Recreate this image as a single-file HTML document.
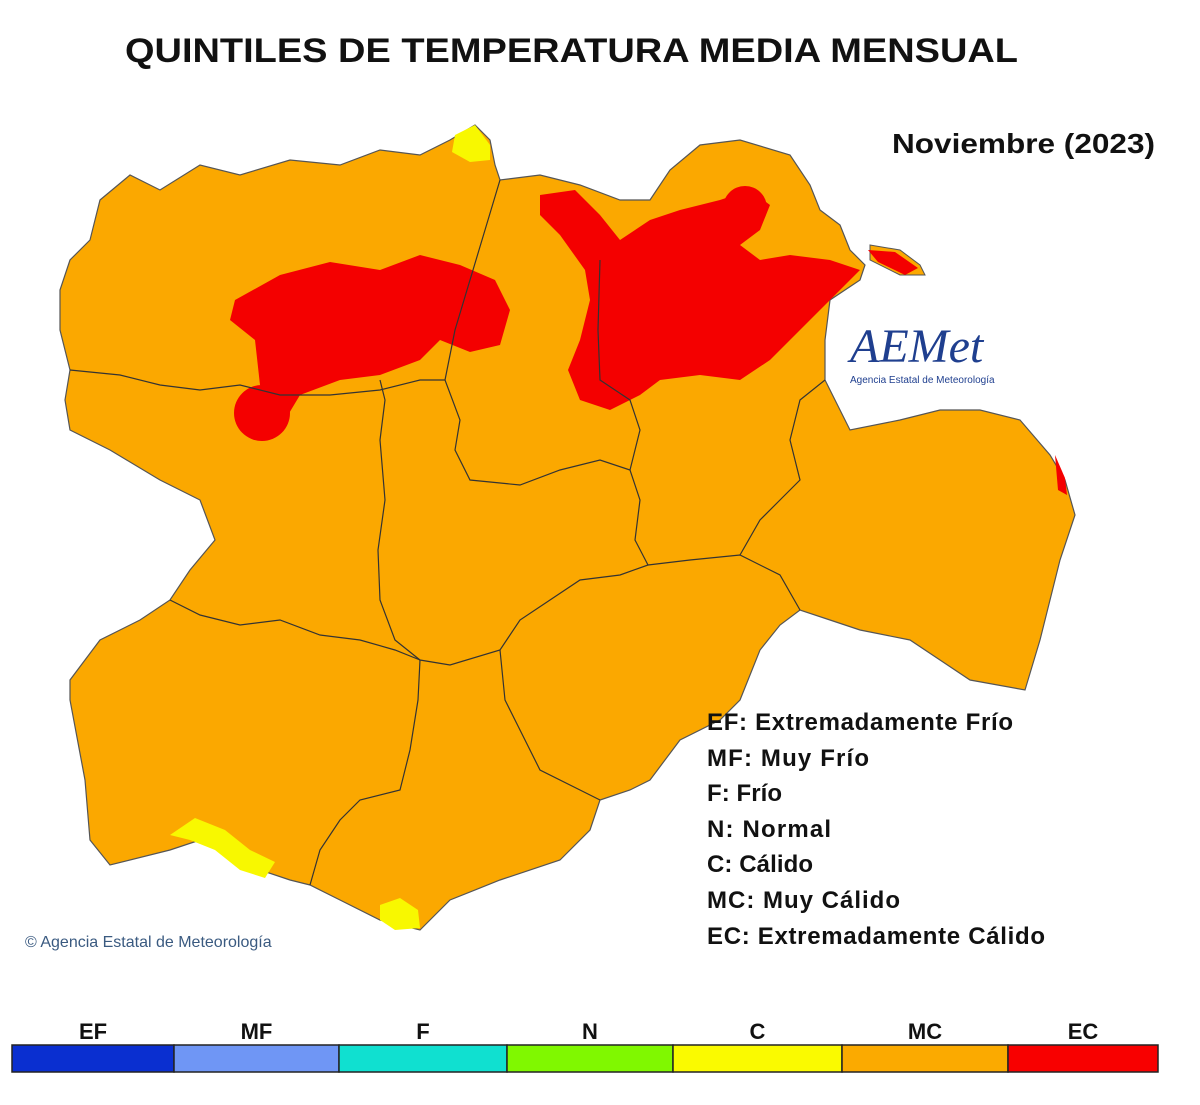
<!DOCTYPE html>
<html><head><meta charset="utf-8"><style>
body{margin:0;background:#fff;width:1200px;height:1105px;overflow:hidden;font-family:"Liberation Sans",sans-serif}
svg{position:absolute;left:0;top:0}
</style></head><body>
<svg width="1200" height="1105" viewBox="0 0 1200 1105">
<text x="125" y="62" textLength="893" lengthAdjust="spacingAndGlyphs" font-size="34" font-weight="bold" fill="#111">QUINTILES DE TEMPERATURA MEDIA MENSUAL</text>
<text x="892" y="153" textLength="263" lengthAdjust="spacingAndGlyphs" font-size="28" font-weight="bold" fill="#111">Noviembre (2023)</text>
<g>
<path fill="#fba800" stroke="#555" stroke-width="1.2" d="M100,200 L130,175 160,190 200,165 240,175 290,160 340,165 380,150 420,155 450,140 475,125 490,140 495,165 500,180 540,175 580,185 620,200 650,200 670,170 700,145 740,140 790,155 810,185 820,210 840,225 850,250 865,265 860,280 830,300 825,340 825,380 850,430 900,420 940,410 980,410 1020,420 1050,455 1065,480 1075,515 1060,560 1050,600 1040,640 1025,690 970,680 940,660 910,640 860,630 830,620 800,610 780,625 760,650 740,700 720,720 680,740 650,780 630,790 600,800 590,830 560,860 500,880 450,900 420,930 380,920 340,900 310,885 290,880 260,870 230,850 200,840 170,850 110,865 90,840 85,780 70,700 70,680 100,640 140,620 170,600 190,570 215,540 200,500 160,480 110,450 70,430 65,400 70,370 60,330 60,290 70,260 90,240 Z"/>
<path d="M870,245 L900,250 920,265 925,275 900,275 870,260 Z" fill="#fba800" stroke="#555"/>
<g fill="#f40000">
<path d="M235,300 L280,275 330,262 380,270 420,255 460,265 495,280 510,310 500,345 470,352 440,340 420,360 380,375 340,380 300,395 285,420 260,385 255,340 230,320 Z"/>
<circle cx="262" cy="413" r="28"/>
<path d="M540,195 L575,190 600,215 620,240 650,220 680,210 720,200 750,190 770,205 760,230 740,245 760,260 790,255 830,260 860,270 840,290 820,310 800,330 770,360 740,380 700,375 660,380 640,395 610,410 580,400 568,370 580,340 590,300 585,270 560,235 540,215 Z"/>
<circle cx="745" cy="208" r="22"/>
<path d="M868,250 L895,252 918,268 905,275 878,262 Z"/>
<path d="M1055,455 L1065,478 1067,495 1058,490 Z"/>
</g>
<g fill="#f8f800">
<path d="M455,135 L475,125 490,145 490,160 470,162 452,152 Z"/>
<path d="M170,835 L195,818 225,830 250,850 275,862 265,878 240,870 215,850 190,840 Z"/>
<path d="M380,905 L400,898 418,910 420,928 395,930 380,920 Z"/>
</g>
<g fill="none" stroke="#333" stroke-width="1.2">
<path d="M500,180 L485,230 470,280 455,330 445,380 460,420 455,450 470,480 520,485 560,470 600,460 630,470 640,500 635,540 648,565 620,575 580,580 550,600 520,620 500,650 450,665 420,660 395,640 380,600 378,550 385,500 380,440 385,400 380,380"/>
<path d="M70,370 L120,375 160,385 200,390 240,385 280,395 330,395 380,390 420,380 445,380"/>
<path d="M170,600 L200,615 240,625 280,620 320,635 360,640 395,650 420,660"/>
<path d="M420,660 L418,700 410,750 400,790 360,800 340,820 320,850 310,885"/>
<path d="M500,650 L505,700 520,730 540,770 580,790 600,800"/>
<path d="M630,470 L640,430 630,400 600,380 598,330 600,260"/>
<path d="M648,565 L690,560 740,555 780,575 800,610"/>
<path d="M825,380 L800,400 790,440 800,480 780,500 760,520 740,555"/>
</g>
</g>
<g>
<text x="850" y="362" font-size="48" font-style="italic" fill="#1f3f8f" font-family="Liberation Serif,serif">AEMet</text>
<text x="850" y="383" font-size="10" fill="#1f3f8f">Agencia Estatal de Meteorología</text>
</g>
<text x="25" y="947" font-size="16" fill="#3a5a80">© Agencia Estatal de Meteorología</text>
<g font-size="24" fill="#111" font-weight="bold" lengthAdjust="spacingAndGlyphs">
<text x="707" y="730" textLength="306">EF: Extremadamente Frío</text>
<text x="707" y="766" textLength="162">MF: Muy Frío</text>
<text x="707" y="801" textLength="75">F: Frío</text>
<text x="707" y="837" textLength="124">N: Normal</text>
<text x="707" y="872" textLength="106">C: Cálido</text>
<text x="707" y="908" textLength="193">MC: Muy Cálido</text>
<text x="707" y="944" textLength="338">EC: Extremadamente Cálido</text>
</g>
<g id="legend"></g>
</svg>
<script>
const labels=["EF","MF","F","N","C","MC","EC"];
const colors=["#0a2fd0","#6f96f5","#10e0d0","#80f800","#fafa00","#fbaa00","#f80000"];
const edges=[12,174,339,507,673,842,1008,1158];
const g=document.getElementById('legend');
const ns="http://www.w3.org/2000/svg";
labels.forEach((l,i)=>{
 const r=document.createElementNS(ns,'rect');
 
 
 r.setAttribute('x',edges[i]);r.setAttribute('y',1045);r.setAttribute('width',edges[i+1]-edges[i]);r.setAttribute('height',27);
 r.setAttribute('fill',colors[i]);r.setAttribute('stroke','#222');r.setAttribute('stroke-width','1.5');
 g.appendChild(r);
 const t=document.createElementNS(ns,'text');
 
 
 t.setAttribute('x',(edges[i]+edges[i+1])/2);t.setAttribute('y',1039);t.setAttribute('text-anchor','middle');
 t.setAttribute('font-size','22');t.setAttribute('font-weight','bold');t.setAttribute('fill','#111');
 t.textContent=l;g.appendChild(t);
});
</script>
</body></html>
